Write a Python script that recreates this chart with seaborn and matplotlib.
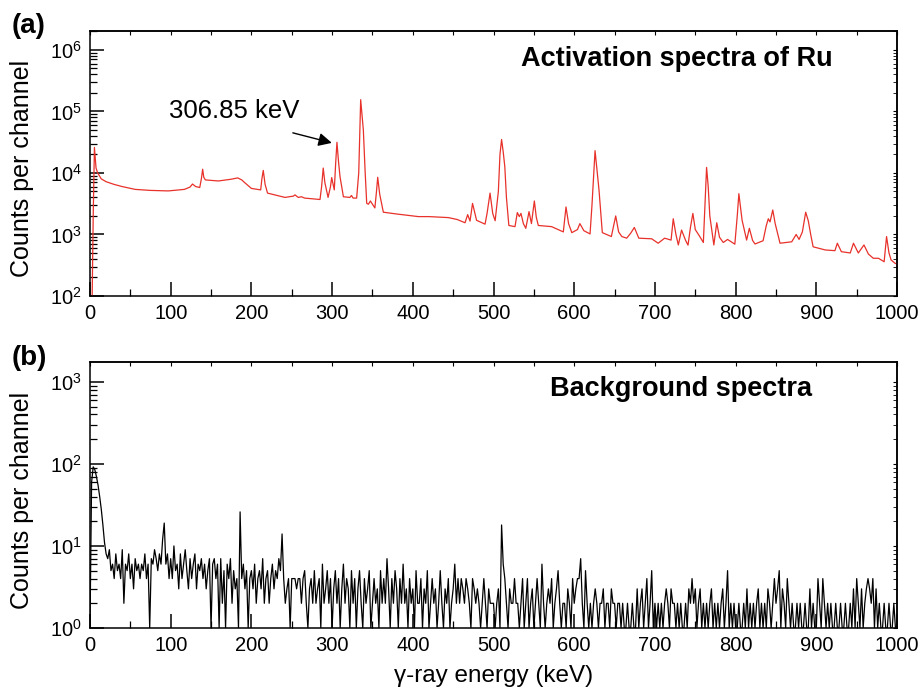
import numpy as np
import pandas as pd
import matplotlib
matplotlib.use('Agg')
import matplotlib.pyplot as plt
import seaborn as sns

# (a) activation spectrum of Ru: energy (keV) / counts per channel
act_kev = [2.5, 4.0, 5.5, 7.5, 9.5, 14, 20, 30, 40, 56, 75, 97, 117, 124, 127, 131, 136, 138, 139.6, 141,
           143, 159, 175, 183, 188, 192, 200, 211.5, 213, 214.7, 217, 220, 241.6, 252, 254, 258, 262, 266,
           285, 287, 289, 291, 295, 298, 299.5, 302.7, 304.5, 306, 308, 309.8, 314, 322, 324, 326, 330.4,
           333, 335.4, 337, 338.7, 341, 342.9, 345, 347.4, 353, 355, 356.5, 359, 363.5, 380, 407, 420, 444,
           455, 464.7, 468, 470.9, 474, 479, 489.5, 492, 495.7, 499, 502, 506, 508, 510, 512, 514, 516, 519,
           526.6, 529.5, 532, 534, 537, 540, 544, 547, 550.6, 553, 555.5, 572, 586.5, 589.8, 593, 597, 604,
           607, 612, 619.6, 622, 625.8, 628, 630.7, 634.8, 646, 651.4, 655, 659, 665, 670, 674.5, 680, 696,
           704, 712, 720, 722.7, 726, 729, 733, 738, 741, 744, 747, 750, 755, 760, 762, 764, 766, 768, 773,
           776.6, 780, 784.7, 790, 799, 802, 804, 808, 813.6, 817, 821, 824, 834, 838, 840.5, 842.6, 846,
           849, 855, 869.5, 875, 878.6, 882.7, 886.8, 890, 893, 896, 911, 923, 926, 931, 942, 946, 952, 959,
           964.5, 970.6, 977, 984, 987, 990, 992.6, 997.5, 1000]
act_counts = [60, 2000, 26000, 12000, 10000, 8000, 7200, 6500, 6000, 5400, 5200, 5100, 5400, 5900, 6600, 6000,
              5800, 8000, 11500, 8500, 7700, 7400, 7900, 8300, 7700, 6900, 5600, 5300, 8000, 11000, 6500, 4700,
              4000, 4200, 4400, 4000, 4100, 3900, 3700, 6000, 12000, 7000, 4000, 6000, 8400, 5300, 15000,
              31500, 15000, 8700, 4100, 4000, 4300, 3900, 3900, 10000, 155000, 90000, 50000, 10000, 3200,
              3100, 3500, 2700, 5000, 8500, 4500, 2300, 2150, 1950, 1950, 1880, 1750, 1550, 2100, 1650, 3200,
              1700, 1470, 2200, 4700, 2200, 1670, 5000, 20000, 35000, 22000, 12600, 4000, 1400, 1340, 2270,
              1950, 2200, 1500, 1260, 2350, 1500, 3500, 1900, 1400, 1340, 1100, 2800, 1500, 1070, 1200, 1500,
              1150, 1020, 3000, 23000, 12000, 5300, 1070, 925, 2000, 1100, 925, 870, 1050, 1300, 870, 850,
              720, 870, 810, 1800, 1000, 675, 1180, 800, 670, 1300, 2200, 1200, 950, 740, 3000, 12300, 6000,
              2000, 675, 1550, 900, 740, 830, 695, 2000, 4600, 1700, 810, 1260, 800, 700, 790, 1400, 1800,
              1600, 2500, 1500, 720, 760, 1000, 830, 1100, 2300, 1670, 1000, 630, 560, 545, 720, 525, 500,
              720, 500, 675, 480, 410, 410, 360, 925, 500, 385, 340, 330]

# (b) background spectrum, one value every 2 keV from 0 keV
bkg_step = 2
bkg_counts = [
    1, 60, 92, 85, 70, 55, 40, 28, 18, 11, 8, 7, 9, 5, 6, 4, 8, 5, 6, 4, 9, 2, 6, 5, 8,
    4, 6, 3, 7, 5, 6, 4, 6, 5, 8, 4, 6, 1, 7, 6, 9, 7, 5, 8, 6, 12, 19, 6, 8, 4,
    7, 4, 10, 5, 6, 3, 8, 4, 6, 9, 5, 3, 7, 4, 6, 8, 3, 6, 5, 7, 4, 6, 3, 5, 7,
    1, 6, 7, 4, 6, 1, 7, 2, 5, 1, 6, 4, 7, 2, 5, 3, 4, 1, 26, 4, 6, 3, 5, 1, 4,
    5, 3, 6, 2, 4, 5, 3, 7, 2, 4, 5, 2, 4, 6, 3, 5, 4, 7, 5, 14, 4, 2, 3, 4, 1,
    4, 4, 4, 3, 4, 4, 2, 4, 5, 2, 1, 3, 4, 2, 5, 2, 3, 4, 1, 6, 2, 3, 5, 2, 4,
    1, 3, 5, 2, 4, 1, 3, 6, 2, 4, 3, 1, 5, 2, 4, 1, 3, 5, 2, 1, 4, 2, 3, 5, 1,
    2, 4, 2, 3, 1, 5, 2, 4, 2, 7, 3, 1, 4, 2, 5, 3, 1, 4, 2, 6, 2, 3, 1, 4, 2,
    3, 1, 5, 2, 2, 4, 1, 3, 2, 5, 1, 2, 4, 2, 3, 1, 2, 5, 2, 1, 3, 2, 4, 1, 2,
    3, 6, 2, 4, 2, 4, 3, 2, 4, 3, 2, 1, 4, 3, 2, 3, 2, 1, 2, 4, 2, 1, 3, 2, 2,
    2, 1, 2, 3, 1, 18, 6, 4, 2, 1, 3, 2, 2, 4, 2, 2, 1, 2, 4, 1, 2, 4, 1, 2, 3,
    1, 2, 4, 2, 1, 6, 2, 1, 2, 3, 2, 4, 1, 2, 3, 5, 2, 1, 2, 2, 1, 3, 2, 1, 4,
    2, 3, 4, 4, 7, 2, 1, 5, 2, 1, 2, 1, 2, 3, 2, 1, 2, 2, 3, 1, 2, 2, 1, 3, 2,
    2, 1, 2, 2, 1, 2, 1, 1, 2, 1, 1, 2, 1, 1, 3, 1, 2, 3, 1, 2, 4, 1, 2, 5, 1,
    2, 1, 2, 1, 2, 1, 2, 3, 2, 1, 3, 2, 2, 1, 2, 1, 2, 1, 1, 2, 1, 3, 2, 4, 2,
    3, 1, 2, 3, 1, 2, 1, 2, 1, 2, 3, 1, 2, 1, 2, 1, 2, 3, 1, 2, 5, 1, 2, 1, 2,
    1, 1, 2, 1, 1, 2, 1, 3, 1, 2, 1, 2, 1, 2, 3, 1, 2, 1, 2, 1, 3, 2, 1, 2, 4,
    2, 3, 5, 1, 3, 2, 1, 4, 2, 1, 2, 1, 1, 2, 1, 2, 1, 1, 2, 1, 1, 3, 1, 2, 1,
    1, 4, 2, 1, 4, 2, 1, 2, 1, 2, 1, 1, 2, 1, 1, 2, 1, 1, 2, 1, 1, 2, 1, 3, 1,
    4, 2, 1, 3, 1, 2, 3, 4, 3, 2, 4, 1, 3, 1, 2, 1, 1, 2, 1, 1, 2, 1, 1, 2, 1]

act = pd.DataFrame({'energy': act_kev, 'counts': act_counts})
bkg = pd.DataFrame({'energy': np.arange(len(bkg_counts)) * bkg_step, 'counts': bkg_counts})

sns.set_style('ticks')
plt.rcParams['font.family'] = ['Liberation Sans', 'DejaVu Sans']
plt.rcParams['mathtext.fontset'] = 'custom'
plt.rcParams['mathtext.rm'] = 'Liberation Sans'
plt.rcParams['axes.linewidth'] = 1.1
for key in ['text.color', 'axes.labelcolor', 'axes.edgecolor', 'xtick.color', 'ytick.color']:
    plt.rcParams[key] = 'black'

fig = plt.figure(figsize=(9.21, 6.93), dpi=100)
ax1 = fig.add_axes([0.0977, 0.5729, 0.8763, 0.3828])
ax2 = fig.add_axes([0.0977, 0.0938, 0.8763, 0.3834])

sns.lineplot(data=act, x='energy', y='counts', ax=ax1, color='#e8312a', lw=0.9, estimator=None)
sns.lineplot(data=bkg, x='energy', y='counts', ax=ax2, color='black', lw=0.9, estimator=None)

for ax, ylo, yhi in [(ax1, 100, 2.05e6), (ax2, 1, 1.73e3)]:
    ax.set_yscale('log')
    ax.set_xlim(0, 1000)
    ax.set_ylim(ylo, yhi)
    ax.set_xticks(range(0, 1001, 100))
    ax.set_xticks(range(50, 1000, 100), minor=True)
    ax.tick_params(which='major', direction='in', length=10, width=1.1, labelsize=14.5, pad=6)
    ax.tick_params(which='minor', direction='in', length=5, width=0.9)
    ax.set_ylabel('Counts per channel', fontsize=18)
    ax.yaxis.set_label_coords(-0.069, 0.48)
    ax.set_xlabel('')
    top = ax.secondary_xaxis('top')
    top.set_xticks(range(0, 1001, 50))
    top.tick_params(direction='in', length=3, labeltop=False)
    right = ax.secondary_yaxis('right')
    right.tick_params(which='both', direction='in', length=3, labelright=False)

ax1.set_yticks([1e2, 1e3, 1e4, 1e5, 1e6])
ax2.set_yticks([1e0, 1e1, 1e2, 1e3])

ax2.set_xlabel('γ-ray energy (keV)', fontsize=17.5)
ax2.xaxis.set_label_coords(0.5, -0.138)

ax1.text(0.727, 0.893, 'Activation spectra of Ru', transform=ax1.transAxes,
         fontsize=19.5, fontweight='bold', ha='center', va='center')
ax2.text(0.732, 0.90, 'Background spectra', transform=ax2.transAxes,
         fontsize=19.5, fontweight='bold', ha='center', va='center')

ax1.text(98, 1.0e5, '306.85 keV', fontsize=18.5, va='center', ha='left')
ax1.annotate('', xy=(303, 3.0e4), xytext=(248, 4.6e4),
             arrowprops=dict(arrowstyle='-|>', color='black', lw=1, mutation_scale=20))

fig.text(29 / 921, 1 - 26 / 693, '(a)', fontsize=20, fontweight='bold', ha='center', va='center')
fig.text(29 / 921, 1 - 358 / 693, '(b)', fontsize=20, fontweight='bold', ha='center', va='center')

fig.savefig('out.png', dpi=100)
